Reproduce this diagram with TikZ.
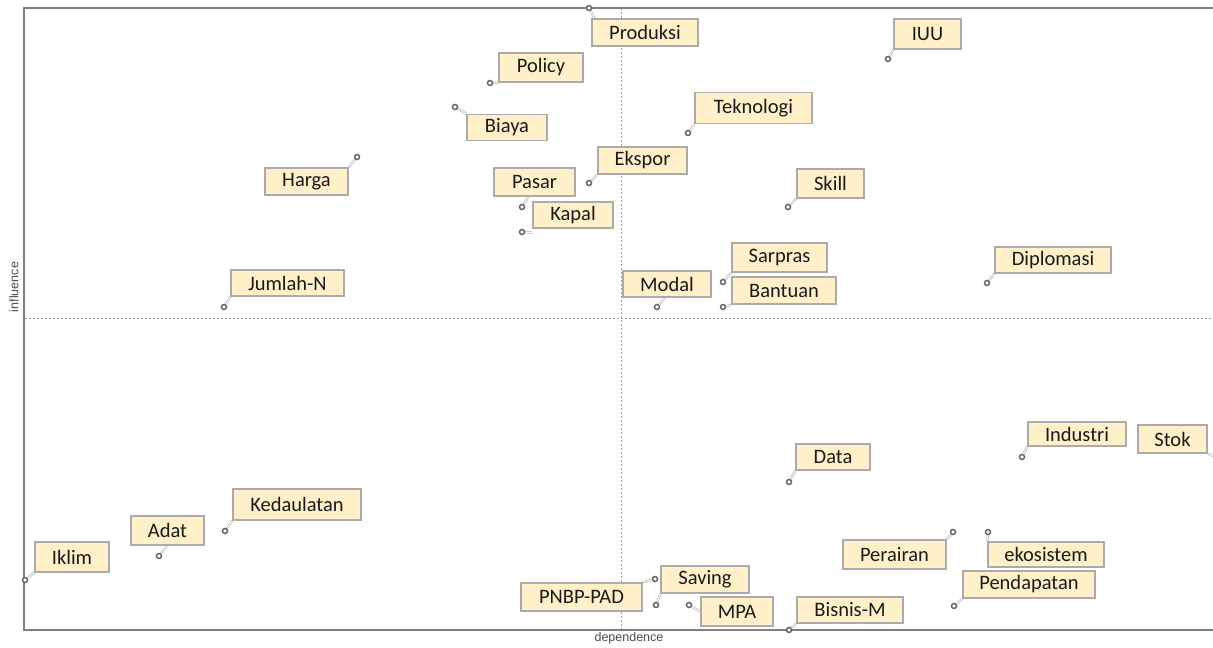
\documentclass[tikz,border=0pt]{standalone}
\usepackage{fontspec}
\setmainfont{Carlito}
\newfontfamily\axisfont{Liberation Sans}
\usetikzlibrary{backgrounds}
\definecolor{boxfill}{HTML}{FFF0C9}
\definecolor{boxline}{HTML}{ABABAB}
\definecolor{frameline}{HTML}{808080}
\definecolor{gridline}{HTML}{A0A0A0}
\definecolor{txt}{HTML}{1A1A1A}
\definecolor{mkcol}{HTML}{666666}
\tikzset{
  lbl/.style={draw=boxline, line width=1.3pt, fill=boxfill, inner sep=0pt, font=\fontsize{20.5}{24}\selectfont, text=txt},
  mk/.style={circle, draw=mkcol, line width=1.5pt, fill=white, inner sep=0pt, minimum size=5pt},
  leader/.style={draw=gray!55, double=white, double distance=0.9pt, line width=0.7pt},
  grid/.style={draw=gridline, line width=0.9pt, dash pattern=on 2pt off 2pt},
  frame/.style={draw=frameline, line width=2pt},
  axislbl/.style={font=\axisfont\fontsize{12.5}{14}\selectfont, text=black!70, inner sep=0pt}
}
\newcommand{\lab}[6]{\node[lbl, minimum width=#4pt, minimum height=#5pt] (#1) at (#2,#3) {#6};}
\newcommand{\ptmark}[3]{\node[mk] (#1) at (#2,#3) {};}
\begin{document}
\begin{tikzpicture}[x=1pt,y=-1pt]
\useasboundingbox (0,0) rectangle (1213,648);
% labels
\lab{Produksi}{645}{32.5}{106}{27}{Produksi}
\lab{Policy}{541}{67.5}{84}{29}{Policy}
\lab{Biaya}{507}{127.5}{80}{26}{Biaya}
\lab{Teknologi}{753.5}{108}{117}{31}{Teknologi}
\lab{Ekspor}{642.5}{160.5}{89}{27}{Ekspor}
\lab{Pasar}{534.5}{182}{81}{28}{Pasar}
\lab{Kapal}{573}{215}{80}{26}{Kapal}
\lab{Skill}{830.5}{183.5}{67}{29}{Skill}
\lab{IUU}{927.5}{34}{67}{30}{IUU}
\lab{Harga}{306.5}{181.5}{83}{27}{Harga}
\lab{JumlahN}{287.5}{283}{113}{26}{Jumlah-N}
\lab{Modal}{667}{284}{88}{26}{Modal}
\lab{Sarpras}{779.5}{257.5}{95}{29}{Sarpras}
\lab{Bantuan}{784}{290.5}{104}{27}{Bantuan}
\lab{Diplomasi}{1053}{260}{116}{26}{Diplomasi}
\lab{Iklim}{72}{557}{74}{30}{Iklim}
\lab{Adat}{167.5}{530.5}{73}{29}{Adat}
\lab{Kedaulatan}{297}{504.5}{128}{31}{Kedaulatan}
\lab{PNBP}{581.5}{597}{121}{28}{PNBP-PAD}
\lab{Saving}{705}{579.5}{88}{27}{Saving}
\lab{MPA}{737}{611.5}{72}{29}{MPA}
\lab{Bisnis}{850}{610}{106}{26}{Bisnis-M}
\lab{Data}{833}{457}{74}{26}{Data}
\lab{Industri}{1077}{434}{98}{24}{Industri}
\lab{Stok}{1172.5}{439}{69}{28}{Stok}
\lab{Perairan}{894.5}{554.5}{103}{29}{Perairan}
\lab{ekosistem}{1046}{554.5}{116}{25}{ekosistem}
\lab{Pendapatan}{1029}{584.5}{132}{27}{Pendapatan}
% markers
\ptmark{pProduksi}{589}{8}
\ptmark{pPolicy}{490}{83}
\ptmark{pBiaya}{455}{107}
\ptmark{pTeknologi}{688}{133}
\ptmark{pEkspor}{589}{183}
\ptmark{pPasar}{522}{207}
\ptmark{pKapal}{522}{232}
\ptmark{pSkill}{788}{207}
\ptmark{pIUU}{888}{59}
\ptmark{pHarga}{357}{157}
\ptmark{pJumlahN}{224}{307}
\ptmark{pModal}{657}{307}
\ptmark{pSarpras}{723}{282}
\ptmark{pBantuan}{723}{307}
\ptmark{pDiplomasi}{987}{283}
\ptmark{pIklim}{25}{580}
\ptmark{pAdat}{159}{556}
\ptmark{pKedaulatan}{225}{531}
\ptmark{pPNBP}{655}{579}
\ptmark{pSaving}{656}{605}
\ptmark{pMPA}{689}{605}
\ptmark{pBisnis}{789}{630}
\ptmark{pData}{789}{482}
\ptmark{pIndustri}{1022}{457}
\ptmark{pPerairan}{953}{532}
\ptmark{pekosistem}{988}{532}
\ptmark{pPendapatan}{954}{606}
\coordinate (pStok) at (1213,456);
\begin{scope}[on background layer]
  \fill[white] (0,0) rectangle (1213,648);
  % frame and quadrant lines
  \draw[grid] (621,8) -- (621,629);
  \draw[grid] (25,318) -- (1213,318);
  \draw[frame] (1213,7.5) -- (24,7.5) -- (24,630) -- (1213,630);
  % leaders
  \draw[leader] (pProduksi) -- ([xshift=3pt]Produksi.north west);
  \draw[leader] (pPolicy) -- (Policy.south west);
  \draw[leader] (pBiaya) -- (Biaya.north west);
  \draw[leader] (pTeknologi) -- (Teknologi.south west);
  \draw[leader] (pEkspor) -- (Ekspor.south west);
  \draw[leader] (pPasar) -- ([xshift=-6pt]Pasar.south);
  \draw[leader] (pKapal) -- ([yshift=-4pt]Kapal.south west);
  \draw[leader] (pSkill) -- (Skill.south west);
  \draw[leader] (pIUU) -- (IUU.south west);
  \draw[leader] (pHarga) -- (Harga.north east);
  \draw[leader] (pJumlahN) -- (JumlahN.south west);
  \draw[leader] (pModal) -- ([xshift=-2pt]Modal.south);
  \draw[leader] (pSarpras) -- (Sarpras.south west);
  \draw[leader] (pBantuan) -- (Bantuan.south west);
  \draw[leader] (pDiplomasi) -- (Diplomasi.south west);
  \draw[leader] (pIklim) -- (Iklim.south west);
  \draw[leader] (pAdat) -- (Adat.south);
  \draw[leader] (pKedaulatan) -- (Kedaulatan.south west);
  \draw[leader] (pPNBP) -- (PNBP.north east);
  \draw[leader] (pSaving) -- (Saving.south west);
  \draw[leader] (pMPA) -- (MPA.west);
  \draw[leader] (pBisnis) -- (Bisnis.south west);
  \draw[leader] (pData) -- (Data.south west);
  \draw[leader] (pIndustri) -- (Industri.south west);
  \draw[leader] (pStok) -- (Stok.south east);
  \draw[leader] (pPerairan) -- (Perairan.north east);
  \draw[leader] (pekosistem) -- (ekosistem.north west);
  \draw[leader] (pPendapatan) -- (Pendapatan.south west);
\end{scope}
% axis labels
\node[axislbl, rotate=90] (infl) at (14,287) {influence};
\node[axislbl] (dep) at (629,638) {dependence};
\end{tikzpicture}
\end{document}
